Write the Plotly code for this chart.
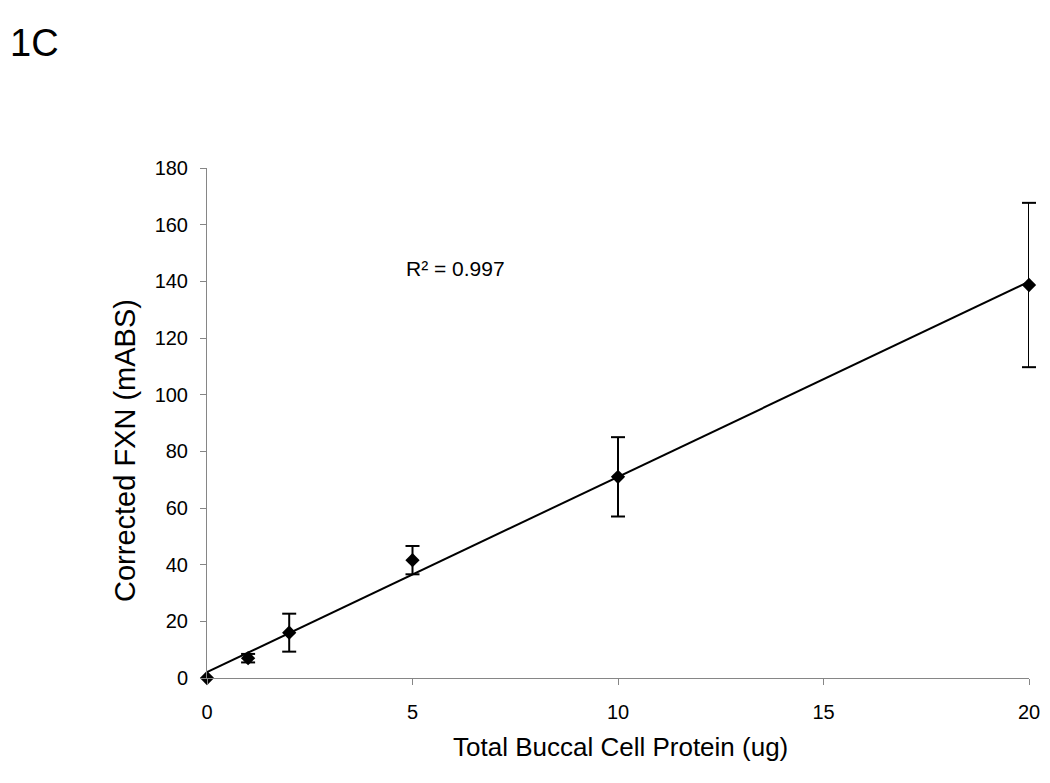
import numpy as np
import plotly.graph_objects as go

protein = [0, 1, 2, 5, 10, 20]
fxn = [0, 7, 16, 41.6, 71, 138.7]
err = [0, 1.5, 6.7, 5, 14, 29]
x_ticks = [0, 5, 10, 15, 20]
y_ticks = [0, 20, 40, 60, 80, 100, 120, 140, 160, 180]

slope, intercept = np.polyfit(protein, fxn, 1)
trend_x = [min(protein), max(protein)]
trend_y = [intercept + slope * v for v in trend_x]

cap_x = [p for p, e in zip(protein, err) if e > 0] * 2
cap_y = ([f + e for f, e in zip(fxn, err) if e > 0] +
         [f - e for f, e in zip(fxn, err) if e > 0])

FONT = "Liberation Sans, Arial"

fig = go.Figure()
fig.add_trace(go.Scatter(x=trend_x, y=trend_y, mode="lines",
                         line=dict(color="black", width=2), showlegend=False,
                         hoverinfo="skip", cliponaxis=False))
fig.add_trace(go.Scatter(x=protein, y=fxn, mode="markers",
                         marker=dict(symbol="diamond", size=11, color="black"),
                         error_y=dict(type="data", array=err, color="black",
                                      thickness=2, width=0),
                         showlegend=False, cliponaxis=False))
fig.add_trace(go.Scatter(x=cap_x, y=cap_y, mode="markers",
                         marker=dict(symbol="line-ew", size=10,
                                     line=dict(color="black", width=2)),
                         showlegend=False, cliponaxis=False, hoverinfo="skip"))

fig.add_annotation(x=6.05, y=144.5, text="R² = 0.997", showarrow=False,
                   font=dict(size=21, color="black", family=FONT))
fig.add_annotation(xref="paper", yref="paper", x=-0.242, y=1.245, text="1C",
                   showarrow=False, xanchor="left", yanchor="middle",
                   font=dict(size=38, color="black", family=FONT))
fig.add_annotation(xref="paper", yref="paper", x=0.5036, y=-0.135,
                   text="Total Buccal Cell Protein (ug)", showarrow=False,
                   xanchor="center", yanchor="middle",
                   font=dict(size=26, color="black", family=FONT))
fig.add_annotation(xref="paper", yref="paper", x=-0.0998, y=0.447,
                   text="Corrected FXN (mABS)", showarrow=False, textangle=-90,
                   xanchor="center", yanchor="middle",
                   font=dict(size=29, color="black", family=FONT))

axis_common = dict(showgrid=False, zeroline=False, showline=True,
                   linecolor="#868686", linewidth=1, ticks="outside",
                   tickcolor="#868686", ticklen=6,
                   tickfont=dict(size=20, color="black", family=FONT))
fig.update_xaxes(range=[0, 20], tickvals=x_ticks, ticklabelstandoff=10,
                 **axis_common)
fig.update_yaxes(range=[0, 180], tickvals=y_ticks, ticklabelstandoff=8,
                 **axis_common)

fig.update_layout(width=1050, height=783,
                  margin=dict(l=199, r=29, t=160, b=113),
                  plot_bgcolor="white", paper_bgcolor="white",
                  font=dict(family=FONT, color="black"))
fig.write_html("out.html")
